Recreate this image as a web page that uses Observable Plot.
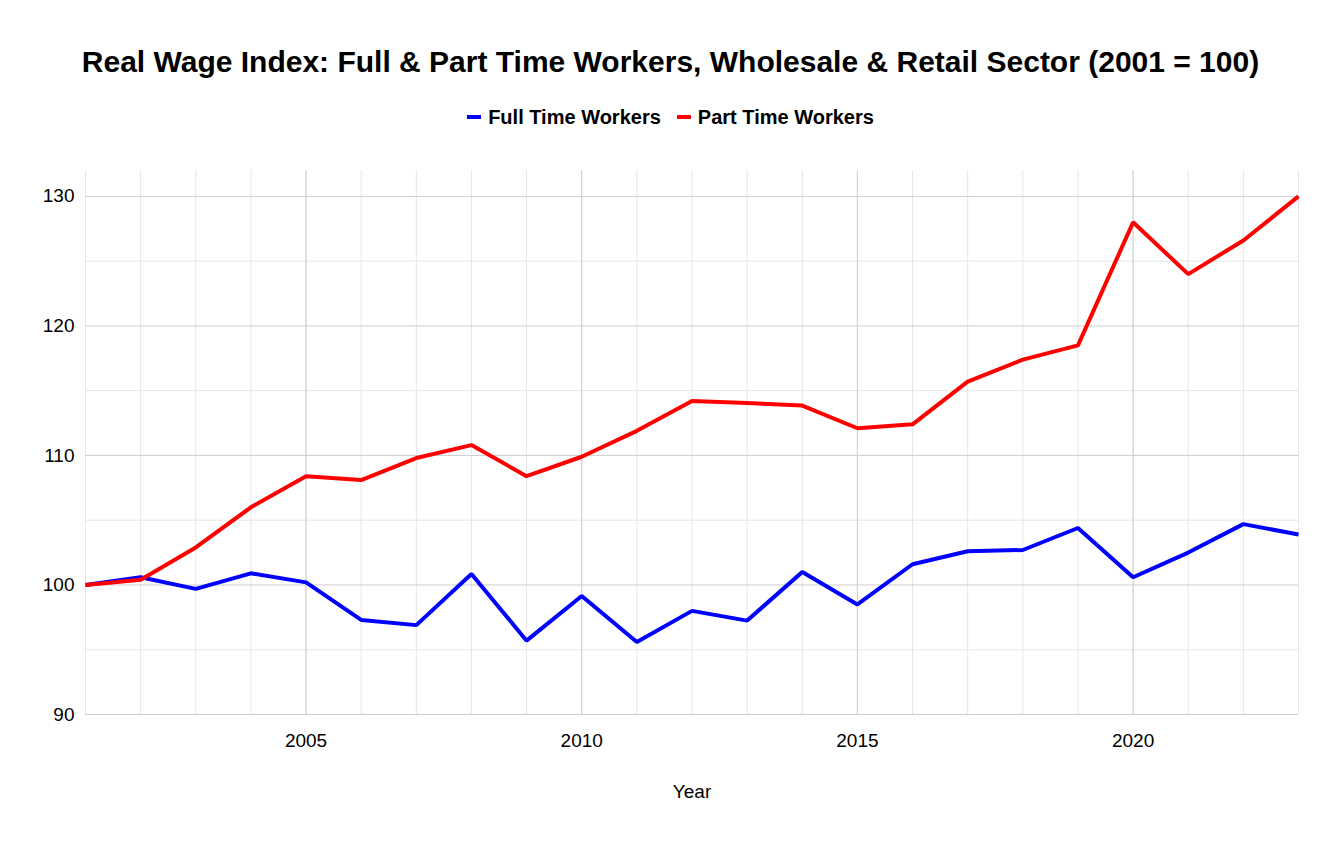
<!DOCTYPE html>
<html>
<head>
<meta charset="utf-8">
<script src="https://cdn.jsdelivr.net/npm/d3@7"></script>
<script src="https://cdn.jsdelivr.net/npm/@observablehq/plot@0.6"></script>
<style>
  html, body { margin: 0; padding: 0; background: #fff; }
  body { font-family: "Liberation Sans", Arial, sans-serif; width: 1341px; }
  #title { height: 90px; box-sizing: border-box; padding-top: 47px; font-weight: bold; font-size: 30px; line-height: 30px; text-align: center; color: #000; }
  #legend { height: 50px; box-sizing: border-box; padding-top: 12px; line-height: 20px; text-align: center; font-weight: bold; font-size: 20px; color: #000; }
  .item { display: inline-flex; align-items: center; margin: 0 8px; }
  .key { display: inline-block; width: 14px; height: 4px; margin-right: 7px; }
  #chart svg { display: block; }
</style>
</head>
<body>
<div id="title">Real Wage Index: Full &amp; Part Time Workers, Wholesale &amp; Retail Sector (2001 = 100)</div>
<div id="legend"></div>
<div id="chart"></div>
<script>
const years = [2001, 2002, 2003, 2004, 2005, 2006, 2007, 2008, 2009, 2010, 2011, 2012, 2013, 2014, 2015, 2016, 2017, 2018, 2019, 2020, 2021, 2022, 2023];
const fullTime = [100, 100.6, 99.7, 100.9, 100.2, 97.3, 96.9, 100.85, 95.7, 99.15, 95.6, 98.0, 97.25, 101.0, 98.5, 101.6, 102.6, 102.7, 104.4, 100.6, 102.5, 104.7, 103.9];
const partTime = [100, 100.4, 102.9, 106.0, 108.4, 108.1, 109.8, 110.8, 108.4, 109.9, 111.9, 114.2, 114.05, 113.85, 112.1, 112.4, 115.7, 117.4, 118.5, 128.0, 124.0, 126.6, 130.0];
const seriesNames = ["Full Time Workers", "Part Time Workers"];
const seriesColors = ["#0000ff", "#ff0000"];
const xTicks = [2005, 2010, 2015, 2020];
const yTicks = [90, 100, 110, 120, 130];
const yMinor = [95, 105, 115, 125];

const data = [];
years.forEach((y, i) => {
  data.push({year: y, value: fullTime[i], series: seriesNames[0]});
});
years.forEach((y, i) => {
  data.push({year: y, value: partTime[i], series: seriesNames[1]});
});

const legend = document.getElementById("legend");
seriesNames.forEach((n, i) => {
  const it = document.createElement("span");
  it.className = "item";
  const k = document.createElement("span");
  k.className = "key";
  k.style.background = seriesColors[i];
  it.appendChild(k);
  it.appendChild(document.createTextNode(n));
  legend.appendChild(it);
});

const chart = Plot.plot({
  width: 1341,
  height: 705,
  marginTop: 30,
  marginBottom: 131,
  marginLeft: 85,
  marginRight: 43,
  style: {fontFamily: "'Liberation Sans', Arial, sans-serif", fontSize: "19px", color: "#000", background: "#fff"},
  x: {domain: [2001, 2023]},
  y: {domain: [90, 132]},
  color: {domain: seriesNames, range: seriesColors},
  marks: [
    Plot.ruleX(years, {x: d => d, stroke: "#e6e6e6", strokeWidth: 1}),
    Plot.ruleY(yMinor, {y: d => d, stroke: "#e6e6e6", strokeWidth: 1}),
    Plot.ruleX(xTicks, {x: d => d, stroke: "#cfcfcf", strokeWidth: 1}),
    Plot.ruleY(yTicks, {y: d => d, stroke: "#cfcfcf", strokeWidth: 1}),
    Plot.axisX({ticks: xTicks, tickSize: 0, tickPadding: 19, tickFormat: "d", label: null, fontSize: 19}),
    Plot.axisY({ticks: yTicks, tickSize: 0, tickPadding: 11, label: null, fontSize: 19}),
    Plot.text(["Year"], {frameAnchor: "bottom", dy: 83, fontSize: 19, fill: "#000"}),
    Plot.line(data, {x: "year", y: "value", z: "series", stroke: "series", strokeWidth: 4, strokeLinejoin: "miter", strokeLinecap: "butt"})
  ]
});
document.getElementById("chart").appendChild(chart);
</script>
</body>
</html>
